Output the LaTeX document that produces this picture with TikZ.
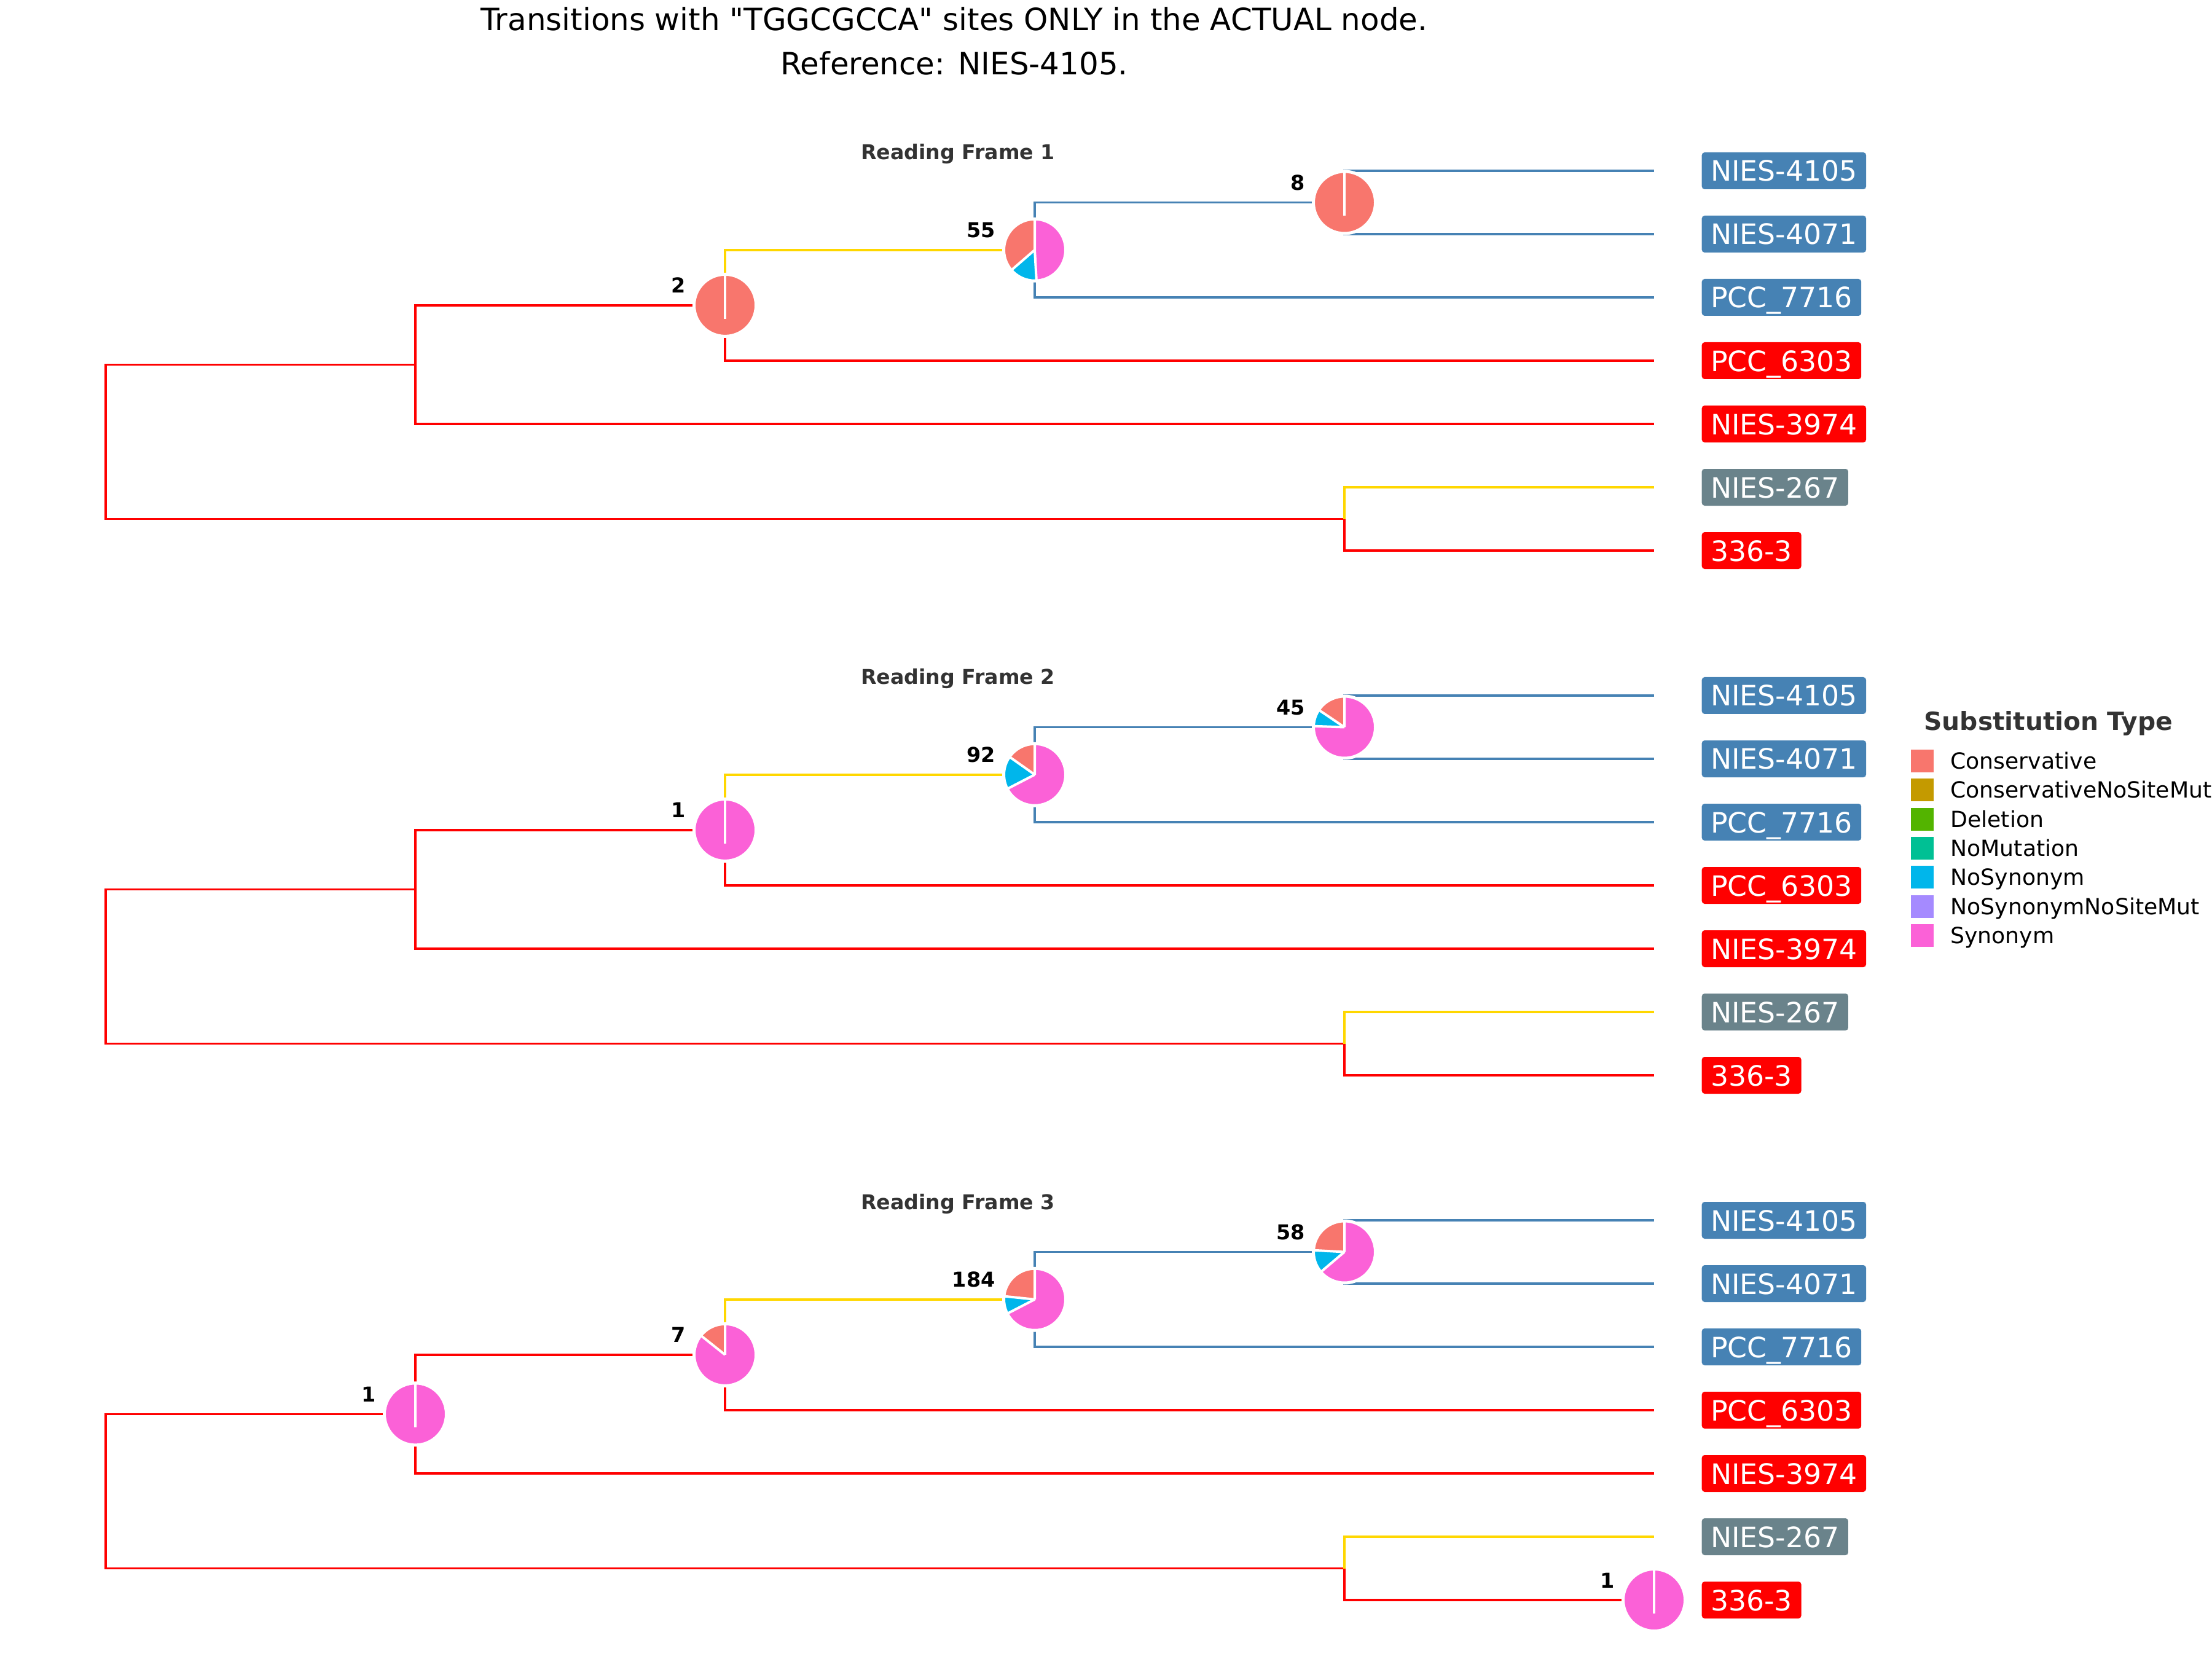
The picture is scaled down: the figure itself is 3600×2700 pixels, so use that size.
\documentclass[tikz,border=0pt]{standalone}
\usepackage{fontspec}
\setmainfont{DejaVu Sans}[Ligatures=TeXOff]
\usetikzlibrary{calc}
\definecolor{cCons}{HTML}{F8766D}
\definecolor{cCNSM}{HTML}{C49A00}
\definecolor{cDel}{HTML}{53B400}
\definecolor{cNoMut}{HTML}{00C094}
\definecolor{cNoSyn}{HTML}{00B6EB}
\definecolor{cNSNSM}{HTML}{A58AFF}
\definecolor{cSyn}{HTML}{FB61D7}
\definecolor{cBlue}{HTML}{4682B4}
\definecolor{cRed}{HTML}{FF0000}
\definecolor{cGold}{HTML}{FFD700}
\definecolor{cGray}{HTML}{6A838B}
\definecolor{cDark}{HTML}{333333}
\tikzset{
  br/.style={line width=0.36mm},
  lab/.style={anchor=west, text=white, font=\fontsize{13pt}{15pt}\selectfont,
    rounded corners=0.45mm, inner xsep=1.45mm, inner ysep=0pt,
    text height=4.7mm, text depth=1.3mm},
  ttl/.style={anchor=base, font=\fontsize{14.2pt}{17pt}\selectfont},
  rf/.style={anchor=base, text=cDark, font=\bfseries\fontsize{9.45pt}{11pt}\selectfont},
  cnt/.style={anchor=base east, font=\bfseries\fontsize{9.5pt}{11pt}\selectfont},
  legt/.style={anchor=base west, text=cDark, font=\bfseries\fontsize{11.6pt}{14pt}\selectfont},
  legl/.style={anchor=base west, font=\fontsize{10.3pt}{12pt}\selectfont},
  legkey/.style={minimum size=3.7mm, inner sep=0pt},
}
\newcommand\treepanel[3]{%
 \begin{scope}[yshift=#2]
  \node[rf] (#1rf) at (1559,260) {Reading Frame #3};
  \coordinate (#1r) at (172,719.2);
  \coordinate (#1n2) at (676,593.4);
  \coordinate (#1n3) at (1180,496.9);
  \coordinate (#1n4) at (1684,406.75);
  \coordinate (#1n5) at (2188,329.5);
  \coordinate (#1b) at (2188,844.5);
  \coordinate (#1e1) at (2692,278);
  \coordinate (#1e2) at (2692,381);
  \coordinate (#1e3) at (2692,484);
  \coordinate (#1e4) at (2692,587);
  \coordinate (#1e5) at (2692,690);
  \coordinate (#1e6) at (2692,793);
  \coordinate (#1e7) at (2692,896);
  \node[lab,fill=cBlue] (#1t1) at (2769,278) {NIES-4105};
  \node[lab,fill=cBlue] (#1t2) at (2769,381) {NIES-4071};
  \node[lab,fill=cBlue] (#1t3) at (2769,484) {PCC\_7716};
  \node[lab,fill=cRed] (#1t4) at (2769,587) {PCC\_6303};
  \node[lab,fill=cRed] (#1t5) at (2769,690) {NIES-3974};
  \node[lab,fill=cGray] (#1t6) at (2769,793) {NIES-267};
  \node[lab,fill=cRed] (#1t7) at (2769,896) {336-3};
  \draw[br,cRed] (#1r) |- (#1n2);
  \draw[br,cRed] (#1r) |- (#1b);
  \draw[br,cRed] (#1n2) |- (#1e5);
  \draw[br,cRed] (#1n2) |- (#1n3);
  \draw[br,cGold] (#1n3) |- (#1n4);
  \draw[br,cRed] (#1n3) |- (#1e4);
  \draw[br,cBlue] (#1n4) |- (#1n5);
  \draw[br,cBlue] (#1n4) |- (#1e3);
  \draw[br,cBlue] (#1n5) |- (#1e1);
  \draw[br,cBlue] (#1n5) |- (#1e2);
  \draw[br,cGold] (#1b) |- (#1e6);
  \draw[br,cRed] (#1b) |- (#1e7);
 \end{scope}}
\newcommand\mypie[5]{%
 \pgfmathsetmacro\ptot{#2+#3+#4}%
 \pgfmathsetmacro\pa{90+360*#2/\ptot}%
 \pgfmathsetmacro\pb{\pa+360*#3/\ptot}%
 \ifnum#2>0 \fill[cCons] (#1) -- ++(90:5.05mm) arc[start angle=90,end angle=\pa,radius=5.05mm] -- cycle;\fi
 \ifnum#3>0 \fill[cNoSyn] (#1) -- ++(\pa:5.05mm) arc[start angle=\pa,end angle=\pb,radius=5.05mm] -- cycle;\fi
 \ifnum#4>0 \fill[cSyn] (#1) -- ++(\pb:5.05mm) arc[start angle=\pb,end angle=450,radius=5.05mm] -- cycle;\fi
 \draw[white,line width=0.5mm] (#1) circle[radius=5.05mm];
 \draw[white,line width=0.4mm] (#1) -- ++(90:5.05mm) (#1) -- ++(\pa:5.05mm) (#1) -- ++(\pb:5.05mm);
 \ifnum\numexpr#2*#3+#3*#4+#2*#4\relax=0 \draw[white,line width=0.4mm] (#1) -- ++(270:2.2mm);\fi
 \node[cnt] (#1lab) at ([shift={(-5.2mm,2mm)}]#1) {#5};
}
\begin{document}
\begin{tikzpicture}[x=0.1mm,y=-0.1mm]
\useasboundingbox (0,0) rectangle (3600,2700);
\clip (0,0) rectangle (3600,2700);
\fill[white] (0,0) rectangle (3600,2700);
\node[ttl] (title1) at (1553,50) {Transitions with "TGGCGCCA" sites ONLY in the ACTUAL node.};
\node[ttl] (title2) at (1553,122) {Reference: NIES-4105.};
\treepanel{a}{0mm}{1}
\treepanel{b}{-85.4mm}{2}
\treepanel{c}{-170.8mm}{3}
% pies panel 1
\mypie{an3}{2}{0}{0}{2}
\mypie{an4}{20}{8}{27}{55}
\mypie{an5}{8}{0}{0}{8}
% pies panel 2
\mypie{bn3}{0}{0}{1}{1}
\mypie{bn4}{14}{16}{62}{92}
\mypie{bn5}{7}{4}{34}{45}
% pies panel 3
\mypie{cn2}{0}{0}{1}{1}
\mypie{cn3}{1}{0}{6}{7}
\mypie{cn4}{43}{17}{124}{184}
\mypie{cn5}{14}{7}{37}{58}
\mypie{ce7}{0}{0}{1}{1}
% legend
\node[legt] (legtitle) at (3119,1188) {Substitution Type};
\foreach \i/\c/\t in {0/cCons/Conservative,1/cCNSM/ConservativeNoSiteMut,2/cDel/Deletion,3/cNoMut/NoMutation,4/cNoSyn/NoSynonym,5/cNSNSM/NoSynonymNoSiteMut,6/cSyn/Synonym}{
  \node[legkey,fill=\c] (key\i) at (3128.5,{1238.5+47.3*\i}) {};
  \node[legl] (legl\i) at (3162,{1251.5+47.3*\i}) {\t};
}
\end{tikzpicture}
\end{document}
